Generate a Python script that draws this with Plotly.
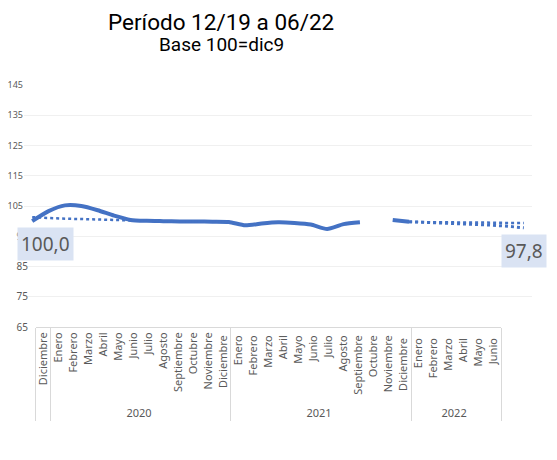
import plotly.graph_objects as go

# Months from Dic 2019 to Jun 2022 (trailing spaces keep repeated month names distinct)
years = [" "] + ["2020"] * 12 + ["2021"] * 12 + ["2022"] * 6
months = ["Diciembre",
          "Enero", "Febrero", "Marzo", "Abril", "Mayo", "Junio", "Julio",
          "Agosto", "Septiembre", "Octubre", "Noviembre", "Diciembre ",
          "Enero ", "Febrero ", "Marzo ", "Abril ", "Mayo ", "Junio ", "Julio ",
          "Agosto ", "Septiembre ", "Octubre ", "Noviembre ", "Diciembre  ",
          "Enero  ", "Febrero  ", "Marzo  ", "Abril  ", "Mayo  ", "Junio  "]
x_idx = [f"m{i}" for i in range(len(months))]

# Index (base 100 = dic 2019)
index_main = [100.0, 103.3, 105.2, 105.0, 103.6, 101.8, 100.4, 100.1,
              100.0, 99.9, 99.9, 99.8, 99.7, 98.6, 99.2, 99.6,
              99.4, 98.9, 97.4, 99.0, 99.6, None, 100.4, 99.8,
              None, None, None, None, None, None, None]
index_tail = [None] * 23 + [99.8, 99.6, 99.3, 99.0, 98.8, 98.7, 98.3, 97.8]
trend = [101.3, 101.0, 100.8, 100.7, 100.5, 100.3, 100.2, 100.1,
         100.0, 99.9, 99.9, 99.8, 99.8, None, None, None,
         None, None, None, None, None, None, None, 99.7,
         99.7, 99.6, 99.6, 99.5, 99.5, 99.4, 99.4]

y_upper_ticks = [105, 115, 125, 135, 145]
y_lower_ticks = [65, 75, 85, 95]

blue = "#4472C4"
grey = "#595959"

fig = go.Figure()

fig.add_trace(go.Scatter(x=x_idx, y=index_main, mode="lines",
                         line=dict(color=blue, width=4, shape="spline", smoothing=0.6),
                         hoverinfo="skip"))
fig.add_trace(go.Scatter(x=x_idx, y=index_tail, mode="lines",
                         line=dict(color=blue, width=3, dash="dot"),
                         hoverinfo="skip"))
fig.add_trace(go.Scatter(x=x_idx, y=trend, mode="lines",
                         line=dict(color=blue, width=2.5, dash="dot"),
                         hoverinfo="skip"))
# helper traces: month / year labels and the second set of y tick labels
fig.add_trace(go.Scatter(x=[years, months], y=[100] * len(months),
                         mode="markers", marker=dict(opacity=0),
                         xaxis="x2", yaxis="y3", hoverinfo="skip"))
fig.add_trace(go.Scatter(x=x_idx, y=[100] * len(months), mode="markers",
                         marker=dict(opacity=0), xaxis="x", yaxis="y2",
                         hoverinfo="skip"))

first_val = index_main[0]
last_val = index_tail[-1]
box = dict(bgcolor="#DAE3F3", font=dict(family="Noto Sans", size=19, color=grey),
           showarrow=False, borderpad=3)
fig.add_annotation(x=x_idx[0], y=first_val, text=f"{first_val:.1f}".replace(".", ","),
                   xshift=13, yshift=-23, **box)
fig.add_annotation(x=x_idx[-1], y=last_val, text=f"{last_val:.1f}".replace(".", ","),
                   xshift=0, yshift=-23, **box)

fig.add_annotation(text="Período 12/19 a 06/22", xref="paper", yref="paper",
                   x=0.388, y=1.262, xanchor="center", yanchor="middle", showarrow=False,
                   font=dict(family="Roboto", size=22.5, color="black"))
fig.add_annotation(text="Base 100=dic9", xref="paper", yref="paper",
                   x=0.388, y=1.166, xanchor="center", yanchor="middle", showarrow=False,
                   font=dict(family="Roboto", size=19, color="black"))

fig.update_layout(
    width=557, height=460,
    margin=dict(l=16, r=33, t=77, b=141),
    plot_bgcolor="rgba(0,0,0,0)", paper_bgcolor="white",
    showlegend=False,
    font=dict(family="Noto Sans", color=grey),
    xaxis=dict(type="category", range=[-0.5, 30.5], showticklabels=False,
               showgrid=False, zeroline=False, showline=False, ticks=""),
    xaxis2=dict(type="multicategory", domain=[0.0236, 0.939], anchor="y3",
                range=[-0.5, 30.5], showgrid=False, showline=True, linecolor="#D9D9D9",
                tickangle=-90, tickfont=dict(size=11, color=grey),
                showdividers=True, dividercolor="#D9D9D9", dividerwidth=1,
                ticks="", automargin=False),
    yaxis=dict(range=[65, 145], tickvals=y_upper_ticks, showgrid=True,
               gridcolor="#F0F0F0", zeroline=False, showline=False,
               tickfont=dict(size=9, color=grey), automargin=False),
    yaxis2=dict(range=[65, 145], overlaying="y", side="left", anchor="x",
                tickvals=y_lower_ticks, showgrid=True, gridcolor="#F0F0F0",
                zeroline=False, showline=False, automargin=False,
                tickfont=dict(size=10, color=grey), ticklabelstandoff=-5),
    yaxis3=dict(range=[65, 145], overlaying="y", anchor="x2", visible=False,
                showgrid=False),
)

fig.write_html("out.html")
